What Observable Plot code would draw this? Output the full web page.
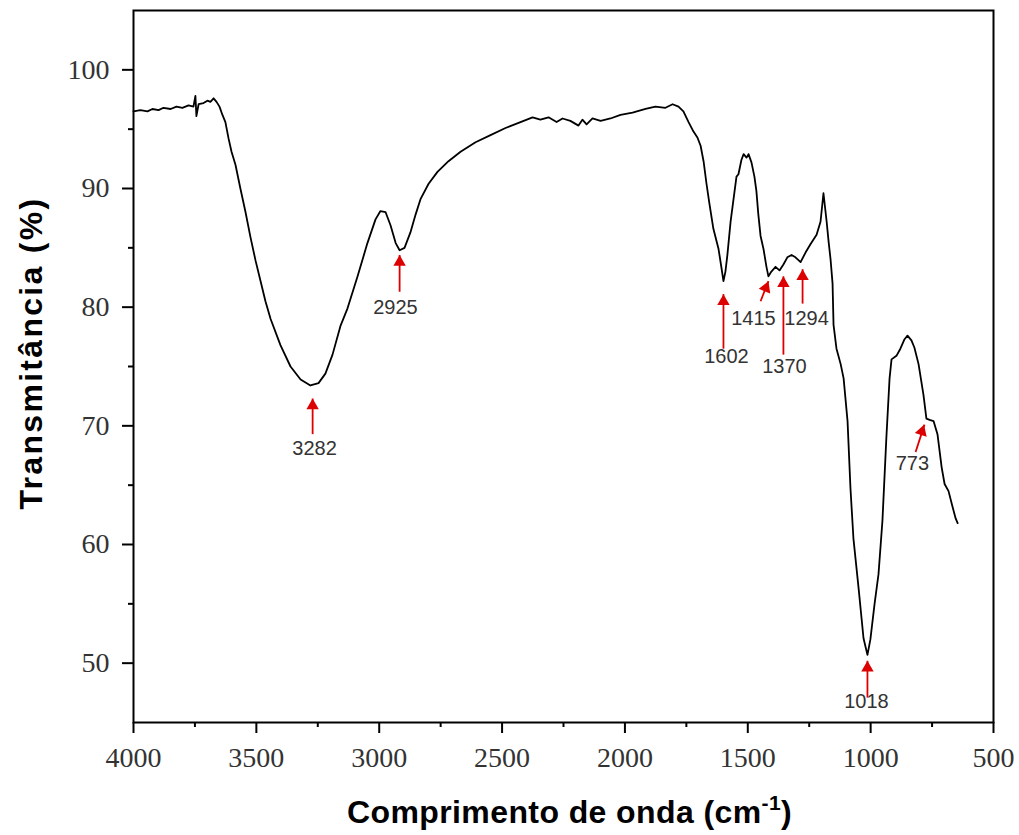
<!DOCTYPE html>
<html>
<head>
<meta charset="utf-8">
<script src="https://cdn.jsdelivr.net/npm/d3@7"></script>
<script src="https://cdn.jsdelivr.net/npm/@observablehq/plot@0.6"></script>
<style>
  html, body { margin: 0; padding: 0; background: #fff; }
  #wrap { position: relative; width: 1019px; height: 835px; overflow: hidden; }
  #xtitle { position: absolute; left: 0; top: 796px; width: 1019px; box-sizing: border-box; padding-left: 120px;
            text-align: center; font-family: "Liberation Sans", Arial, sans-serif; font-weight: bold; font-size: 32px;
            line-height: 1; letter-spacing: 0.4px; color: #000; white-space: nowrap; }
  #xtitle .sup { font-size: 21px; position: relative; top: -13px; }
  #ytitle { position: absolute; left: 31px; top: 353px; transform: translate(-50%, -50%) rotate(-90deg);
            font-family: "Liberation Sans", Arial, sans-serif; font-weight: bold; font-size: 32px;
            line-height: 1; letter-spacing: 2.3px; color: #000; white-space: nowrap; }
</style>
</head>
<body>
<div id="wrap"></div>
<script>
// ---- spectrum (wavenumber cm-1, transmittance %) ----
const wavenumber = [
  4000, 3972, 3943, 3923, 3898, 3878, 3849, 3825, 3801, 3776, 3756, 3748, 3744, 3735, 3715, 3699, 3687, 3674, 3662, 3650,
  3638, 3626, 3613, 3601, 3585, 3565, 3544, 3524, 3503, 3483, 3463, 3442, 3402, 3361, 3320, 3280, 3247, 3219, 3190, 3158,
  3129, 3088, 3048, 3015, 2995, 2974, 2954, 2933, 2917, 2897, 2873, 2852, 2832, 2799, 2763, 2718, 2669, 2608, 2547, 2486,
  2425, 2376, 2344, 2311, 2278, 2254, 2222, 2189, 2173, 2156, 2132, 2099, 2059, 2018, 1969, 1916, 1876, 1835, 1806, 1782,
  1762, 1741, 1721, 1705, 1692, 1680, 1668, 1656, 1640, 1619, 1607, 1599, 1591, 1583, 1570, 1558, 1546, 1538, 1526, 1517,
  1505, 1497, 1485, 1473, 1465, 1457, 1448, 1436, 1424, 1416, 1404, 1387, 1371, 1355, 1339, 1322, 1306, 1285, 1265, 1245,
  1220, 1204, 1192, 1179, 1171, 1163, 1155, 1151, 1139, 1122, 1110, 1094, 1082, 1070, 1049, 1029, 1013, 1001, 984, 968, 952,
  936, 923, 915, 895, 879, 862, 850, 834, 822, 805, 785, 773, 760, 744, 728, 711, 699, 683, 667, 654, 646
];
const transmittance = [
  96.5, 96.6, 96.5, 96.7, 96.6, 96.8, 96.7, 96.9, 96.8, 97.0, 96.9, 97.8, 96.1, 97.1, 97.2, 97.4, 97.3, 97.6, 97.3, 96.9,
  96.2, 95.6, 94.2, 93.1, 92.0, 90.0, 88.0, 85.9, 83.9, 82.2, 80.5, 79.0, 76.8, 75.0, 73.9, 73.4, 73.6, 74.4, 76.0, 78.4,
  79.9, 82.6, 85.4, 87.4, 88.1, 88.0, 86.9, 85.4, 84.8, 85.0, 86.3, 87.8, 89.1, 90.4, 91.4, 92.3, 93.1, 93.9, 94.5, 95.1,
  95.6, 96.0, 95.8, 96.0, 95.6, 95.9, 95.7, 95.3, 95.8, 95.4, 95.9, 95.7, 95.9, 96.2, 96.4, 96.7, 96.9, 96.8, 97.1, 96.9,
  96.5, 95.6, 94.8, 94.3, 93.6, 92.3, 90.4, 88.7, 86.6, 84.9, 83.3, 82.2, 83.0, 84.4, 87.2, 89.1, 91.0, 91.2, 92.4, 92.9,
  92.6, 92.9, 92.2, 91.0, 89.8, 87.8, 86.0, 84.9, 83.4, 82.6, 83.0, 83.4, 83.1, 83.6, 84.2, 84.4, 84.2, 83.8, 84.6, 85.3,
  86.1, 87.2, 89.6, 87.2, 85.5, 84.0, 82.0, 78.5, 76.5, 75.2, 74.0, 70.4, 64.7, 60.5, 56.3, 52.1, 50.7, 52.0, 55.0, 57.5, 62.0,
  69.0, 74.0, 75.6, 75.9, 76.5, 77.3, 77.6, 77.2, 76.6, 75.2, 72.6, 70.6, 70.5, 70.4, 69.3, 66.5, 65.1, 64.5, 63.2, 62.2, 61.8
];

// ---- peak annotations ----
const peakLabels = ["3282", "2925", "1602", "1415", "1370", "1294", "1018", "773"];
const arrowTipW  = [3271, 2917, 1599, 1416, 1355, 1277, 1013, 781];
const arrowTipT  = [72.3, 84.4, 81.1, 82.2, 82.6, 83.2, 50.2, 70.1];
const arrowTailW = [3271, 2917, 1599, 1448, 1355, 1277, 1013, 817];
const arrowTailT = [69.3, 81.3, 76.5, 80.5, 76.0, 80.3, 47.1, 67.8];
const arrowAngle = [0, 0, 0, 22, 0, 0, 0, 18];
const labelW     = [3263, 2934, 1587, 1477, 1351, 1261, 1017, 830];
const labelT     = [68.1, 80.0, 75.8, 79.0, 75.0, 79.0, 46.8, 66.8];

// ---- axes ----
const xMajorTicks = [4000, 3500, 3000, 2500, 2000, 1500, 1000, 500];
const xMinorTicks = [3750, 3250, 2750, 2250, 1750, 1250, 750];
const yMajorTicks = [50, 60, 70, 80, 90, 100];
const yMinorTicks = [55, 65, 75, 85, 95];

const spectrum = wavenumber.map((w, i) => ({w, t: transmittance[i]}));
const peaks = peakLabels.map((label, i) => ({
  label, tipW: arrowTipW[i], tipT: arrowTipT[i], tailW: arrowTailW[i], tailT: arrowTailT[i],
  angle: arrowAngle[i], lw: labelW[i], lt: labelT[i]
}));

const red = "#dd0000";
const sans = "'Liberation Sans', Arial, sans-serif";

const chart = Plot.plot({
  width: 1019,
  height: 785,
  marginLeft: 133,
  marginRight: 26,
  marginTop: 10,
  marginBottom: 63,
  style: {background: "#fff", fontFamily: "'Liberation Serif', 'Times New Roman', serif", fontSize: "28px", color: "#333"},
  x: {domain: [4000, 500], label: null},
  y: {domain: [45, 105], label: null},
  marks: [
    Plot.axisX(xMajorTicks, {tickSize: 11, tickPadding: 14, tickFormat: d => String(d), stroke: "#000", strokeWidth: 2, label: null}),
    Plot.axisX(xMinorTicks, {tickSize: 5, tickFormat: () => "", stroke: "#000", strokeWidth: 2, label: null}),
    Plot.axisY(yMajorTicks, {tickSize: 11, tickPadding: 13, tickFormat: d => String(d), stroke: "#000", strokeWidth: 2, label: null}),
    Plot.axisY(yMinorTicks, {tickSize: 5, tickFormat: () => "", stroke: "#000", strokeWidth: 2, label: null}),
    Plot.frame({stroke: "#000", strokeWidth: 2}),
    Plot.line(spectrum, {x: "w", y: "t", stroke: "#000", strokeWidth: 1.8}),
    Plot.link(peaks, {x1: "tailW", y1: "tailT", x2: "tipW", y2: "tipT", stroke: red, strokeWidth: 1.8}),
    Plot.dot(peaks.filter(d => d.angle === 0), {x: "tipW", y: "tipT", symbol: "triangle", r: 4.6, fill: red, stroke: "none", dy: 7.2}),
    Plot.dot(peaks.filter(d => d.angle !== 0), {x: "tipW", y: "tipT", symbol: "triangle", r: 4.6, fill: red, stroke: "none", rotate: "angle", dx: -2.6, dy: 6.8}),
    Plot.text(peaks, {x: "lw", y: "lt", text: "label", fontFamily: sans, fontSize: 20, fill: "#333"})
  ]
});

const wrap = document.getElementById("wrap");
wrap.appendChild(chart);
const yt = document.createElement("div");
yt.id = "ytitle";
yt.textContent = "Transmitância (%)";
wrap.appendChild(yt);
const xt = document.createElement("div");
xt.id = "xtitle";
xt.innerHTML = 'Comprimento de onda (cm<span class="sup">-1</span>)';
wrap.appendChild(xt);
</script>
</body>
</html>
